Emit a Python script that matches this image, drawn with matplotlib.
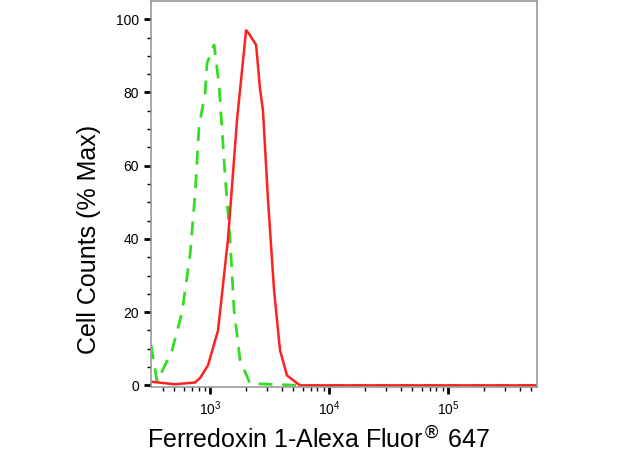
import numpy as np
import matplotlib.pyplot as plt
from matplotlib.ticker import LogLocator, NullFormatter

plt.rcParams['font.family'] = ['Liberation Sans', 'DejaVu Sans']

# log10 of fluorescence intensity, and % max counts
green_log = [2.504, 2.555, 2.681, 2.765, 2.832, 2.874, 2.908, 2.958, 2.975, 3.034,
             3.076, 3.126, 3.168, 3.202, 3.252, 3.336, 3.756, 5.748]
green_pct = [11, 1, 9.6, 20, 35.6, 52, 71, 79.5, 88, 93,
             82, 57.5, 40, 20.5, 7, 0.5, 0, 0]
red_log = [2.504, 2.706, 2.874, 2.916, 2.983, 3.067, 3.151, 3.227, 3.303, 3.328,
           3.387, 3.420, 3.445, 3.487, 3.538, 3.588, 3.647, 3.756, 5.748]
red_pct = [1, 0.3, 0.8, 2, 5.5, 15, 40, 72.6, 97, 96,
           93, 81, 75, 50.7, 26, 9.6, 2.7, 0, 0]

fig = plt.figure(figsize=(6.4, 4.55), dpi=100)
ax = fig.add_axes([0.236, 0.149, 0.603, 0.849])

ax.plot(10 ** np.array(green_log), green_pct, color='#33dd22', lw=2, ls=(0, (5, 3.5)))
ax.plot(10 ** np.array(red_log), red_pct, color='#ff2020', lw=1.8)

ax.set_xscale('log')
ax.set_xlim(10 ** 2.504, 10 ** 5.748)
ax.set_ylim(-0.5, 105)
ax.set_xticks([1e3, 1e4, 1e5])
ax.xaxis.set_minor_locator(LogLocator(base=10, subs=np.arange(2, 10)))
ax.xaxis.set_minor_formatter(NullFormatter())
ax.set_yticks([0, 20, 40, 60, 80, 100])
ax.set_yticks(np.arange(0, 101, 5), minor=True)
ax.tick_params(axis='both', which='major', length=5, width=2, labelsize=10, color='black')
ax.tick_params(axis='both', which='minor', length=3, width=1, color='black')
for s in ax.spines.values():
    s.set_color('#999999')
    s.set_linewidth(1.2)

ax.set_ylabel('Cell Counts (% Max)', fontsize=18)
ax.yaxis.set_label_coords(-0.13, 0.383)
ax.set_xlabel('Ferredoxin 1-Alexa Fluor$^{\\circledR}$ 647', fontsize=18)
ax.xaxis.set_label_coords(0.435, -0.1)

fig.savefig('out.png', dpi=100)
